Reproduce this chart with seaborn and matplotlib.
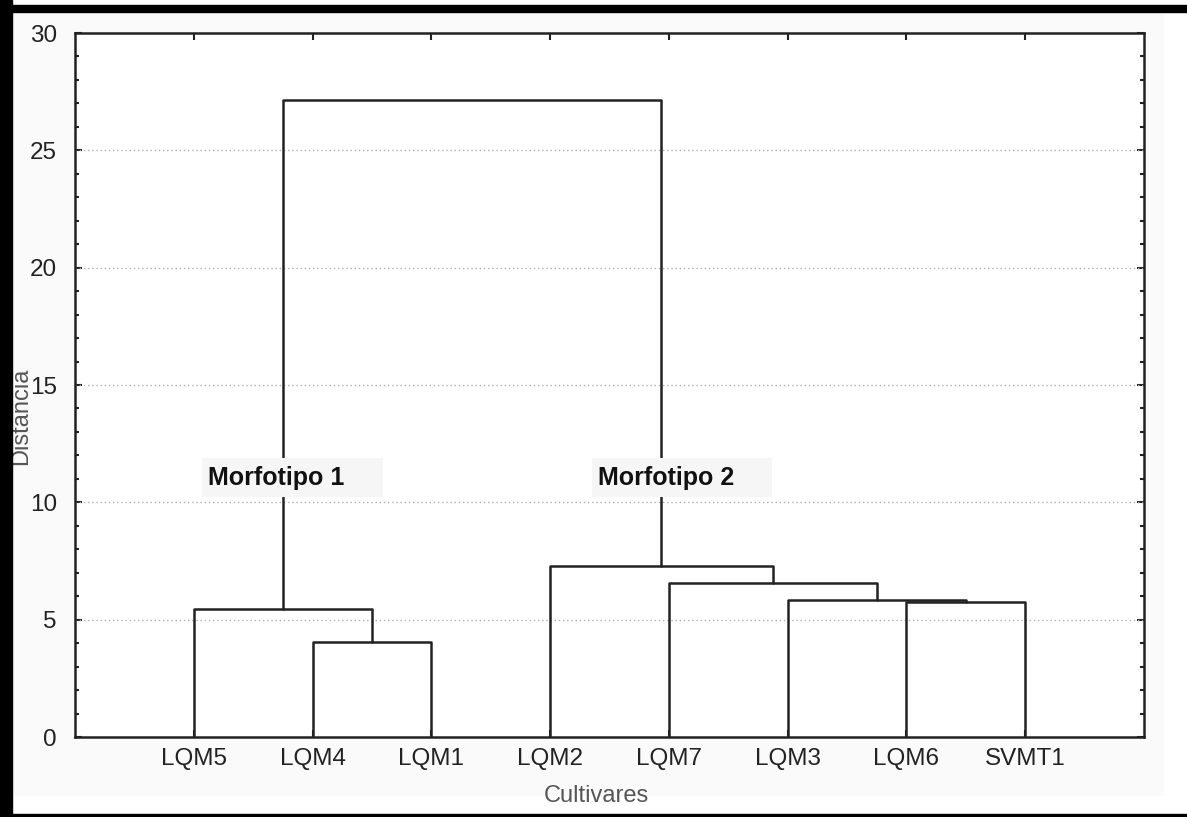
import numpy as np
import pandas as pd
import matplotlib.pyplot as plt
import seaborn as sns
from matplotlib.patches import Rectangle
from matplotlib.ticker import MultipleLocator

# Données du dendrogramme (ordre des feuilles + fusions)
leaves = ['LQM5', 'LQM4', 'LQM1', 'LQM2', 'LQM7', 'LQM3', 'LQM6', 'SVMT1']
merge_left = [1, 6, 0, 5, 4, 3, 10]
merge_right = [2, 7, 8, 9, 11, 12, 13]
merge_height = [4.06, 5.77, 5.45, 5.85, 6.58, 7.30, 27.15]

group_labels = ['Morfotipo 1', 'Morfotipo 2']
group_x = [1.12, 4.40]
group_y = [11.05, 11.05]

# Construction des segments (forme en U) à partir des fusions
pos = {i: i + 1.0 for i in range(len(leaves))}
top = {i: 0.0 for i in range(len(leaves))}
rows = []
seg = 0
for k, (a, b, h) in enumerate(zip(merge_left, merge_right, merge_height)):
    node = len(leaves) + k
    xs = [pos[a], pos[a], pos[b], pos[b]]
    ys = [top[a], h, h, top[b]]
    for j, (x, y) in enumerate(zip(xs, ys)):
        rows.append({'seg': seg, 'order': j, 'x': x, 'y': y})
    seg += 1
    pos[node] = (pos[a] + pos[b]) / 2
    top[node] = h
df = pd.DataFrame(rows)

sns.set_style('white')
plt.rcParams['font.family'] = ['Liberation Sans', 'DejaVu Sans']

fig = plt.figure(figsize=(11.87, 8.17), dpi=100)
fig.patch.set_facecolor('white')
# panneau gris très clair + bordures noires
fig.add_artist(Rectangle((12 / 1187, 22 / 817), 1151 / 1187, 783 / 817,
                         transform=fig.transFigure, color='#fafafa', zorder=-1))
fig.add_artist(Rectangle((0, 0), 12 / 1187, 1, transform=fig.transFigure,
                         color='black', zorder=1))
fig.add_artist(Rectangle((0, 1 - 12 / 817), 1, 7 / 817, transform=fig.transFigure,
                         color='black', zorder=1))
fig.add_artist(Rectangle((0, 0), 1, 3 / 817, transform=fig.transFigure,
                         color='black', zorder=1))

ax = fig.add_axes([75 / 1187, 1 - 737 / 817, 1069 / 1187, 704 / 817])
ax.set_facecolor('white')

sns.lineplot(data=df, x='x', y='y', units='seg', estimator=None, sort=False,
             color='#222222', linewidth=1.8, ax=ax, zorder=3)

ax.set_xlim(0, len(leaves) + 1)
ax.set_ylim(0, 30)
ax.set_xticks(range(1, len(leaves) + 1))
ax.set_xticklabels(leaves)
ax.yaxis.set_major_locator(MultipleLocator(5))
ax.yaxis.set_minor_locator(MultipleLocator(1))

for yv in range(5, 30, 5):
    ax.axhline(yv, color='#b0b0b0', linestyle=(0, (1, 2)), linewidth=1.0, zorder=1)

for s in ax.spines.values():
    s.set_visible(True)
    s.set_color('#222222')
    s.set_linewidth(1.8)

ax.tick_params(axis='x', direction='in', top=True, bottom=True, length=5,
               width=1.5, labelsize=17.5, pad=8, colors='#222222')
ax.tick_params(axis='y', which='major', direction='in', left=True, right=True,
               length=5, width=1.5, labelsize=17.5, pad=13, colors='#222222')
ax.tick_params(axis='y', which='minor', direction='in', left=True, right=True,
               length=3, width=1.5, colors='#222222')

# étiquettes des groupes, fond gris clair qui masque les lignes
for lab, gx, gy in zip(group_labels, group_x, group_y):
    ax.add_patch(Rectangle((gx - 0.05, gy - 0.82), 1.52, 1.66,
                           facecolor='#f6f6f6', edgecolor='none', zorder=4))
    ax.text(gx, gy, lab, fontsize=18, fontweight='bold', ha='left', va='center',
            zorder=5, color='#111111')

ax.set_xlabel('Cultivares', fontsize=17, color='#555555')
ax.set_ylabel('Distancia', fontsize=17, color='#555555')
ax.xaxis.set_label_coords(0.488, -0.068)
ax.yaxis.set_label_coords(-0.04, 0.455)

fig.savefig('out.png', dpi=100)
